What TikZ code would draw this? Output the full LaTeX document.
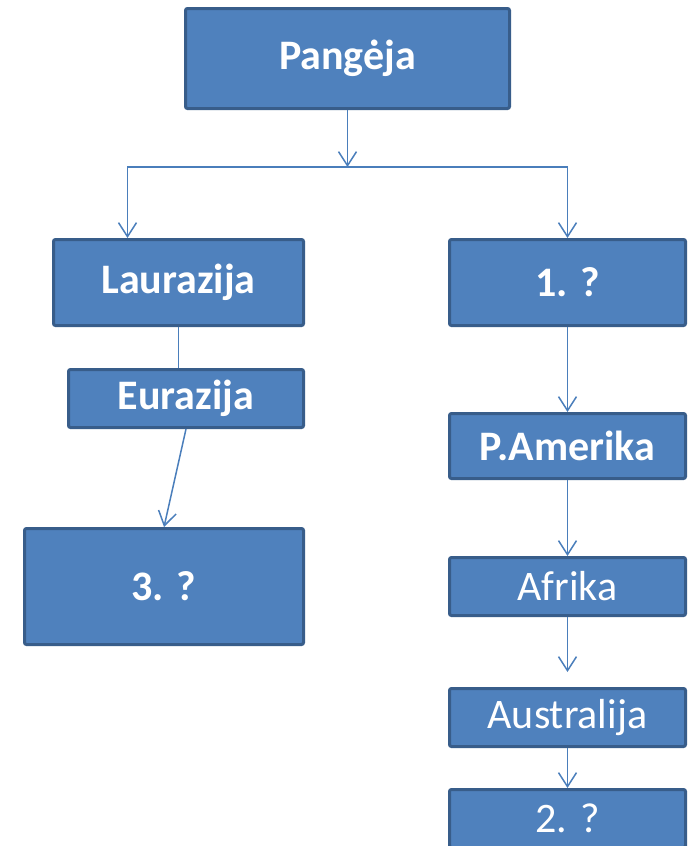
\documentclass[tikz,border=0pt]{standalone}
\usepackage{fontspec}
\setmainfont{Carlito}
\usepackage{tikz}
\usetikzlibrary{positioning,arrows.meta}

\definecolor{boxfill}{RGB}{79,129,189}
\definecolor{boxline}{RGB}{56,93,138}
\definecolor{linkblue}{RGB}{74,126,187}

\tikzset{
  box/.style={draw=boxline, line width=3pt, fill=boxfill, rounded corners=2pt,
    text=white, inner sep=0pt, font=\bfseries\fontsize{42}{50}\selectfont},
  plain/.style={font=\fontsize{42}{50}\selectfont},
  link/.style={draw=linkblue, line width=1.5pt,
    -{Straight Barb[length=14pt,width=18pt,line width=1.5pt]}}
}

\begin{document}
\begin{tikzpicture}[x=1pt,y=-1pt,on grid]
   \useasboundingbox (0,0) rectangle (692,846);
   \node[box, minimum width=324pt, minimum height=100pt] (pangea) at (347.5,58.5) {Pangėja};
   \node[box, minimum width=250pt, minimum height=86pt] (laur) [below left=224pt and 169pt of pangea] {Laurazija};
   \node[box, minimum width=236pt, minimum height=86pt] (one) [below right=224pt and 220pt of pangea] {1. ?};
   \node[box, minimum width=235pt, minimum height=58pt] (eur) [below right=116pt and 7.5pt of laur] {Eurazija};
   \node[box, minimum width=279pt, minimum height=116pt] (three) [below left=188pt and 22pt of eur] {3. ?};
   \node[box, minimum width=236pt, minimum height=65pt] (pam) [below=163.5pt of one] {P.Amerika};
   \node[box, plain, minimum width=236pt, minimum height=58pt] (afr) [below=140.5pt of pam] {Afrika};
   \node[box, plain, minimum width=236pt, minimum height=58pt] (aus) [below=131pt of afr] {Australija};
   \node[box, plain, minimum width=236pt, minimum height=58pt] (two) [below=101pt of aus] {2. ?};
   % split of the first branch
   \coordinate (split) at (347.5,167);
   \draw[link] (pangea.south) -- (split);
   \draw[link] (split) -| ([xshift=-51pt]laur.north);
   \draw[link] (split) -| (one.north);
   % left branch
   \draw[draw=linkblue, line width=1.5pt] (laur.south) -- (laur.south |- eur.north);
   \draw[link] (eur.south) -- (three.north);
   % right branch
   \draw[link] (one.south) -- (pam.north);
   \draw[link] (pam.south) -- (afr.north);
   \draw[link, shorten >=15pt] (afr.south) -- (aus.north);
   \draw[link] (aus.south) -- (two.north);
\end{tikzpicture}
\end{document}
